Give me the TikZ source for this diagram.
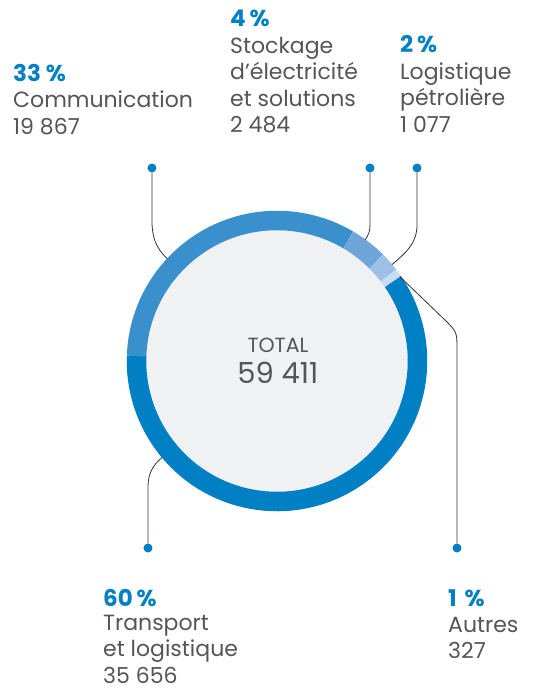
\documentclass[tikz,border=0pt]{standalone}
\usepackage{fontspec}
\setmainfont{Poppins}
\definecolor{pctblue}{HTML}{0080C4}
\definecolor{txtgrey}{HTML}{545557}
\definecolor{segA}{HTML}{0080C4}
\definecolor{segB}{HTML}{3A90CD}
\definecolor{segC}{HTML}{6FA6DA}
\definecolor{segD}{HTML}{9DC0E6}
\definecolor{segE}{HTML}{C9DCF0}
\definecolor{hole}{HTML}{F0F1F3}
\tikzset{
    pct/.style={anchor=base west, inner sep=0pt, text=pctblue, font=\fontsize{23}{26.5}\selectfont\bfseries},
    body/.style={anchor=base west, inner sep=0pt, text=txtgrey, align=left, font=\fontsize{22}{26.5}\selectfont},
    seg/.style={line width=19.5pt},
    lead/.style={line width=0.8pt, black!80},
    dot/.style={circle, fill=pctblue, inner sep=0pt, minimum size=9pt}
}
\begin{document}
\begin{tikzpicture}[x=1pt,y=1pt]
        \useasboundingbox (-277,-328) rectangle (265,361);

        \coordinate (O) at (0,0);
        \coordinate (Rcom) at (137:150);
        \coordinate (Rsto) at (54:150);
        \coordinate (Rlog) at (40:150);
        \coordinate (Raut) at (34.5:149);
        \coordinate (Rtra) at (220:150);

        \node[dot] (Dcom) at (-125,193) {};
        \node[dot] (Dsto) at (93,193) {};
        \node[dot] (Dlog) at (140,193) {};
        \node[dot] (Dtra) at (-129,-187) {};
        \node[dot] (Daut) at (180,-187) {};

        \fill[hole] (O) circle (131);
        \draw[seg, segA] (34.5:140.5) arc (34.5:-182:140.5);
        \draw[seg, segB] (178:140.5) arc (178:59.5:140.5);
        \draw[seg, segC] (59.5:140.5) arc (59.5:45:140.5);
        \draw[seg, segD] (45:140.5) arc (45:37.5:140.5);
        \draw[seg, segE] (37.5:140.5) arc (37.5:34.5:140.5);

        \draw[lead] (Dcom) -- (-125,140) to[out=-90, in=137] (Rcom);
        \draw[lead] (Dsto) -- (93,136) to[out=-90, in=54] (Rsto);
        \draw[lead] (Dlog) -- (140,136) to[out=-90, in=40] (Rlog);
        \draw[lead] (Dtra) -- (-129,-126) to[out=90, in=220] (Rtra);
        \draw[lead] (Raut) -- (168,41) .. controls (180,29) .. (180,11) -- (Daut);

        \node[text=txtgrey, font=\fontsize{20.5}{22}\selectfont] (total) at (1,9) [anchor=base] {TOTAL};
        \node[text=txtgrey, font=\fontsize{29}{31}\selectfont] (sum) at (1,-22) [anchor=base] {59 411};

        \node[pct] (Pcom) at (-264,279) {33 \%};
        \node[body] (Tcom) at (-264,226.5) {Communication\\19 867};
        \node[pct] (Psto) at (-47,334) {4\,\%};
        \node[body] (Tsto) at (-47,228.5) {Stockage\\d’électricité\\et solutions\\2 484};
        \node[pct] (Plog) at (123,308) {2\,\%};
        \node[body] (Tlog) at (123,229) {Logistique\\pétrolière\\1 077};
        \node[pct] (Ptra) at (-174,-245) {60\,\%};
        \node[body] (Ttra) at (-174,-322) {Transport\\et logistique\\35 656};
        \node[pct] (Paut) at (171,-245) {1\,\,\%};
        \node[body] (Taut) at (171,-297.5) {Autres\\327};

    \end{tikzpicture}
\end{document}
